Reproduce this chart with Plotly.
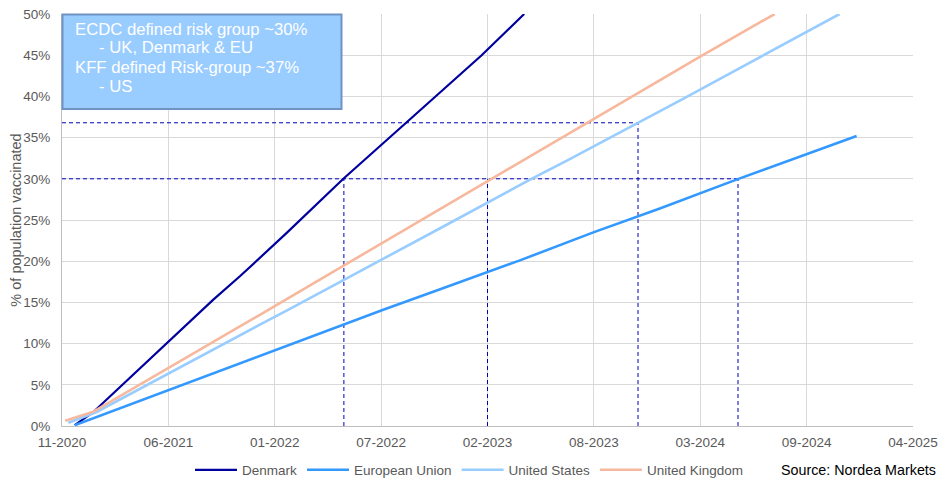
import plotly.graph_objects as go

# ---------------- data ----------------
dk_dates = ["2020-12-24", "2021-01-28", "2021-09-10", "2021-10-31", "2022-01-26",
            "2022-05-13", "2022-09-08", "2022-11-03", "2023-01-28", "2023-04-18"]
dk_values = [0.1, 1.7, 15.3, 18.2, 23.4, 30.0, 36.8, 40.0, 45.0, 50.0]

eu_dates = ["2020-12-24", "2021-07-14", "2022-01-04", "2022-07-27", "2022-11-11",
            "2023-04-10", "2023-08-26", "2023-12-29", "2024-05-21", "2025-01-02"]
eu_values = [0.1, 5.0, 9.2, 14.1, 16.6, 20.1, 23.5, 26.4, 29.9, 35.2]

us_dates = ["2020-12-12", "2021-02-03", "2021-12-07", "2022-01-29", "2022-11-11",
            "2023-04-29", "2023-07-10", "2023-11-18", "2024-02-08", "2024-12-01"]
us_values = [0.4, 1.7, 12.3, 14.1, 24.0, 29.9, 32.3, 36.8, 39.6, 50.0]

uk_dates = ["2020-12-06", "2021-01-28", "2021-12-07", "2022-11-11",
            "2023-08-16", "2024-03-13", "2024-08-01"]
uk_values = [0.64, 1.74, 13.5, 26.3, 36.8, 44.8, 50.0]

series_names = ["Denmark", "European Union", "United States", "United Kingdom"]

# risk-group thresholds and the dates each country reaches them
level_ecdc = 30.0
level_kff = 36.8
cross_30_dates = ["2022-05-14", "2023-02-08", "2024-05-24"]   # Denmark, UK, EU
cross_37_date = "2023-11-18"                                   # US

axis_start = "2020-11-30"
axis_end = "2025-04-18"
tick_step_days = 200

box_lines = ["ECDC defined risk group ~30%", "- UK, Denmark & EU",
             "KFF defined Risk-group ~37%", "- US"]
source_text = "Source: Nordea Markets"
y_title = "% of population vaccinated"

# ---------------- styles ----------------
colors = ["#00009E", "#3399FF", "#99CCFF", "#F7B89D"]
widths = [2.2, 2.6, 2.6, 2.6]
ref_color = "#0000B8"
ref_dash = "4px,3px"
font_family = "Liberation Sans, Arial, sans-serif"
grey_text = "#595959"

# the page body has an 8px margin, so figure coords = page coords - 8
OFF = 8
FIG_W, FIG_H = 946 - 2 * OFF, 489 - 2 * OFF
L, W = 62 - OFF, 851
T, H = 14 - OFF, 412

fig = go.Figure()

# dashed reference lines
ref_x, ref_y = [], []
ref_x += [axis_start, cross_30_dates[-1], None]
ref_y += [level_ecdc, level_ecdc, None]
ref_x += [axis_start, cross_37_date, None]
ref_y += [level_kff, level_kff, None]
for d in cross_30_dates:
    ref_x += [d, d, None]
    ref_y += [0, level_ecdc, None]
ref_x += [cross_37_date, cross_37_date, None]
ref_y += [0, level_kff, None]
fig.add_trace(go.Scatter(x=ref_x, y=ref_y, mode="lines", showlegend=False,
                         hoverinfo="skip",
                         line=dict(color=ref_color, width=1, dash=ref_dash)))

all_x = [dk_dates, eu_dates, us_dates, uk_dates]
all_y = [dk_values, eu_values, us_values, uk_values]
for name, xs, ys, c, w in zip(series_names, all_x, all_y, colors, widths):
    fig.add_trace(go.Scatter(x=xs, y=ys, mode="lines", name=name,
                             line=dict(color=c, width=w)))

# helpers: page pixel -> paper fraction
def px_x(px):
    return (px - OFF - L) / W
def px_y(py):
    return (T + H - (py - OFF)) / H

fig.add_shape(type="rect", xref="paper", yref="paper",
              x0=px_x(62.5), x1=px_x(341.5), y0=px_y(109), y1=px_y(14.5),
              fillcolor="#99CCFF", line=dict(color="#6F93C2", width=2), layer="above")
line_pos = [(73, 30), (97, 48), (73, 67.5), (97, 86)]
for txt, (lx, ly) in zip(box_lines, line_pos):
    fig.add_annotation(text=txt, xref="paper", yref="paper", x=px_x(lx), y=px_y(ly),
                       xanchor="left", yanchor="middle", showarrow=False,
                       font=dict(family=font_family, size=16.7, color="white"))

fig.add_annotation(text=source_text, xref="paper", yref="paper",
                   x=px_x(779), y=px_y(470), xanchor="left", yanchor="middle",
                   showarrow=False, font=dict(family=font_family, size=14.3, color="black"))

fig.update_layout(
    width=FIG_W, height=FIG_H,
    margin=dict(l=L, r=FIG_W - L - W, t=T, b=FIG_H - T - H, autoexpand=False),
    paper_bgcolor="white", plot_bgcolor="white",
    font=dict(family=font_family, size=13.5, color=grey_text),
    legend=dict(orientation="h", x=px_x(202 - 5 - 7), xanchor="left",
                y=px_y(470), yanchor="middle", itemwidth=42,
                font=dict(family=font_family, size=13.5, color=grey_text),
                bgcolor="rgba(0,0,0,0)"),
)

fig.update_xaxes(type="date", range=[axis_start + " 00:00", axis_end + " 00:00"],
                 tickmode="linear", tick0=axis_start,
                 dtick=tick_step_days * 86400000, tickformat="%m-%Y",
                 showgrid=True, gridcolor="#D9D9D9", gridwidth=1,
                 showline=True, linecolor="#BFBFBF", linewidth=1,
                 zeroline=False, ticks="", ticklabelstandoff=4, automargin=False,
                 ticklabeloverflow="allow",
                 tickfont=dict(size=13.5, color=grey_text))
fig.update_yaxes(range=[0, 50], dtick=5, tick0=0, ticksuffix="%",
                 showgrid=True, gridcolor="#D9D9D9", gridwidth=1,
                 showline=True, linecolor="#BFBFBF", linewidth=1,
                 zeroline=False, ticks="", ticklabelstandoff=8, automargin=False,
                 ticklabeloverflow="allow",
                 tickfont=dict(size=13.5, color=grey_text),
                 title=dict(text=y_title, standoff=4,
                            font=dict(size=14.5, color=grey_text)))

fig.write_html("out.html")
